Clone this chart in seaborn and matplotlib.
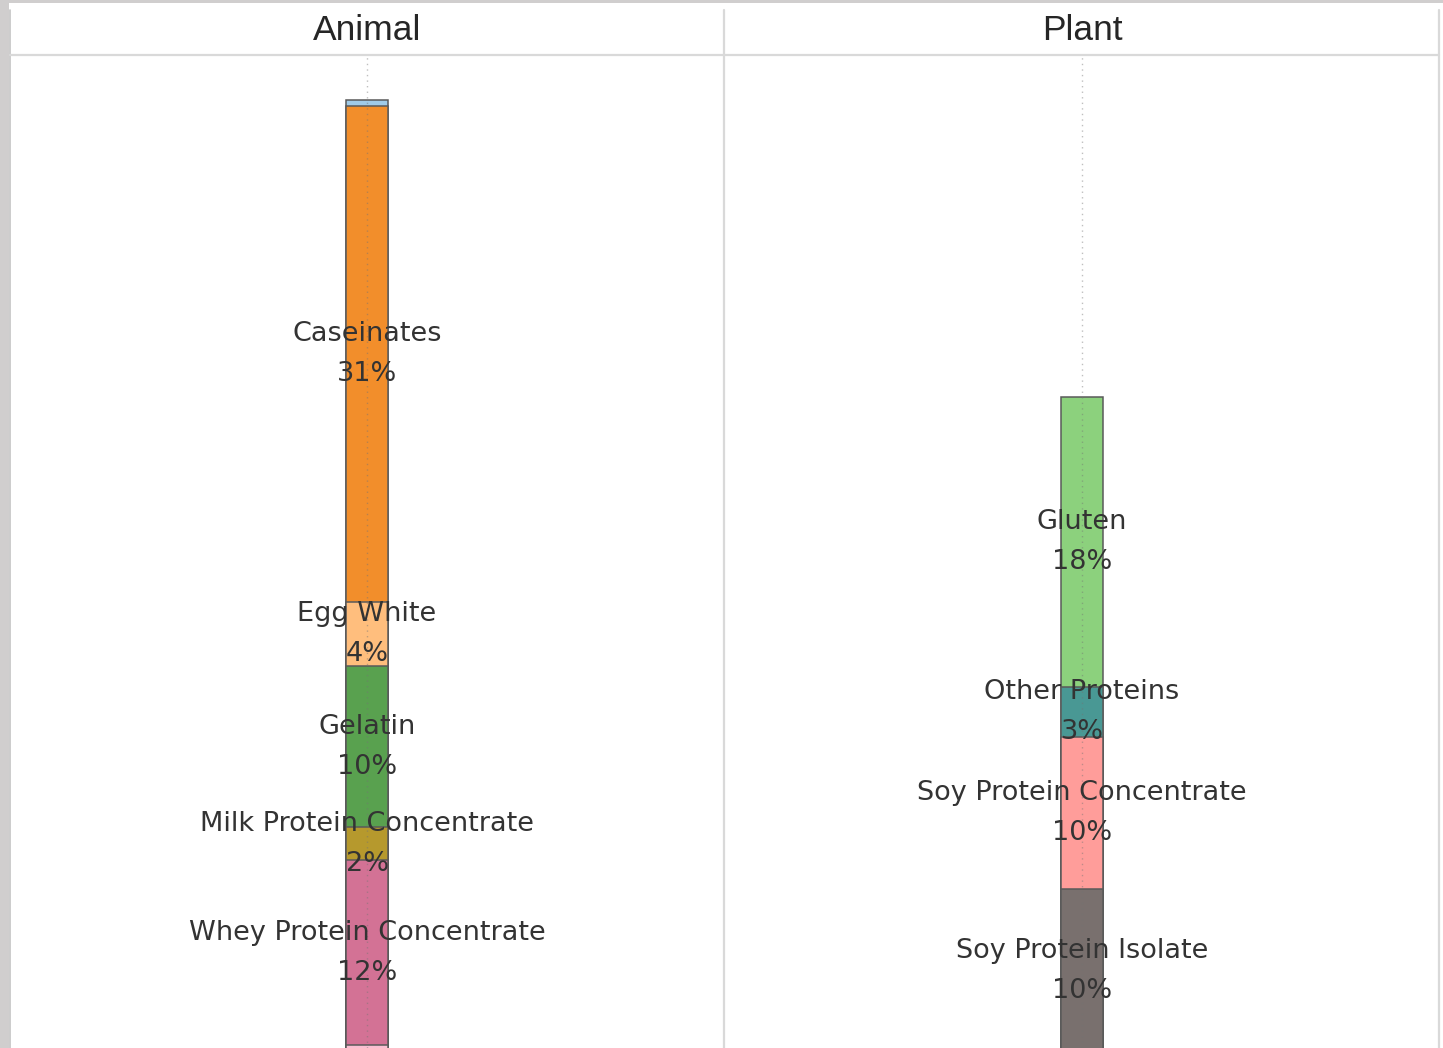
import matplotlib
matplotlib.use("Agg")
import matplotlib.pyplot as plt
from matplotlib.patches import Rectangle
from matplotlib.lines import Line2D
import pandas as pd
import seaborn as sns

# Share of protein ingredients (%), listed top to bottom of each stack
animal_names = ["Albumin", "Caseinates", "Egg White", "Gelatin",
                "Milk Protein Concentrate", "Whey Protein Concentrate",
                "Whey Protein Isolate"]
animal_share = [0.4, 31.4, 4.1, 10.2, 2.1, 11.7, 0.5]
animal_colors = ["#a0cbe8", "#f28e2b", "#ffbe7d", "#59a14f",
                 "#b6992d", "#d37295", "#fabfd2"]

plant_names = ["Gluten", "Other Proteins", "Soy Protein Concentrate",
               "Soy Protein Isolate"]
plant_share = [18.4, 3.2, 9.6, 10.4]
plant_colors = ["#8cd17d", "#499894", "#ff9d9a", "#79706e"]

panels = ["Animal", "Plant"]

W, H = 1443, 1048
sns.set_theme(style="white")
plt.rcParams["font.family"] = ["DejaVu Sans"]

fig = plt.figure(figsize=(W / 100, H / 100), dpi=100)
fig.patch.set_facecolor("white")

# outer frame
fig.patches.append(Rectangle((0, 1 - 3 / H), 1, 3 / H, transform=fig.transFigure,
                             facecolor="#d0cece", edgecolor="none", zorder=0))
fig.patches.append(Rectangle((0, 0), 9 / W, 1, transform=fig.transFigure,
                             facecolor="#d0cece", edgecolor="none", zorder=0))
fig.lines.append(Line2D([9.5 / W, 9.5 / W], [0, 1 - 10 / H], transform=fig.transFigure,
                        color="#c4c4c4", lw=1.2))
# header separator and panel dividers
fig.lines.append(Line2D([10 / W, 1439 / W], [1 - 55 / H, 1 - 55 / H],
                        transform=fig.transFigure, color="#d9d9d9", lw=1.6))
for xp in (724.5, 1439):
    fig.lines.append(Line2D([xp / W, xp / W], [0, 1 - 10 / H],
                            transform=fig.transFigure, color="#d9d9d9", lw=1.6))

# the view is scrolled slightly, so the baseline falls just below the bottom edge
y_lo, y_hi = 0.3, 63.2
bar_w = 0.06
text_col = "#333333"

panel_specs = [
    (panels[0], animal_names, animal_share, animal_colors, 10),
    (panels[1], plant_names, plant_share, plant_colors, 725),
]

for title, names, shares, colors, x0 in panel_specs:
    ax = fig.add_axes([x0 / W, 0, 714 / W, (H - 56) / H])
    ax.set_facecolor("none")

    # stack from the bottom: last item sits on the baseline
    bottoms = []
    acc = 0.0
    for s in reversed(shares):
        bottoms.append(acc)
        acc += s
    bottoms = bottoms[::-1]
    tops = [b + s for b, s in zip(bottoms, shares)]

    # draw cumulative bars, tallest first so each lower part overlays it
    order = sorted(range(len(shares)), key=lambda i: -tops[i])
    for i in order:
        df = pd.DataFrame({"group": [title], "top": [tops[i]]})
        sns.barplot(data=df, x="group", y="top", color=colors[i], saturation=1,
                    width=bar_w, edgecolor="#5a5a5a", linewidth=1.1,
                    errorbar=None, ax=ax, zorder=2)

    ax.axvline(0, color=(0.45, 0.45, 0.45, 0.45), lw=1.0, ls=(0, (1, 3)), zorder=3)

    for name, s, b in zip(names, shares, bottoms):
        if s < 1:
            continue
        mid = b + s / 2
        ax.annotate(name, (0, mid), xytext=(0, 14.4), textcoords="offset points",
                    ha="center", va="center", fontsize=19.5, color=text_col,
                    zorder=4, annotation_clip=False)
        ax.annotate(f"{s:.0f}%", (0, mid), xytext=(0, -14.4), textcoords="offset points",
                    ha="center", va="center", fontsize=19.5, color=text_col,
                    zorder=4, annotation_clip=False)

    ax.set_xlim(-0.5, 0.5)
    ax.set_ylim(y_lo, y_hi)
    ax.set_xlabel("")
    ax.set_ylabel("")
    ax.set_xticks([])
    ax.set_yticks([])
    for sp in ax.spines.values():
        sp.set_visible(False)

    fig.text((x0 + 357) / W, 1 - 31 / H, title, ha="center", va="center",
             fontsize=25.5, color="#262626", family="Liberation Sans")

fig.savefig("out.png", dpi=100, facecolor="white")
